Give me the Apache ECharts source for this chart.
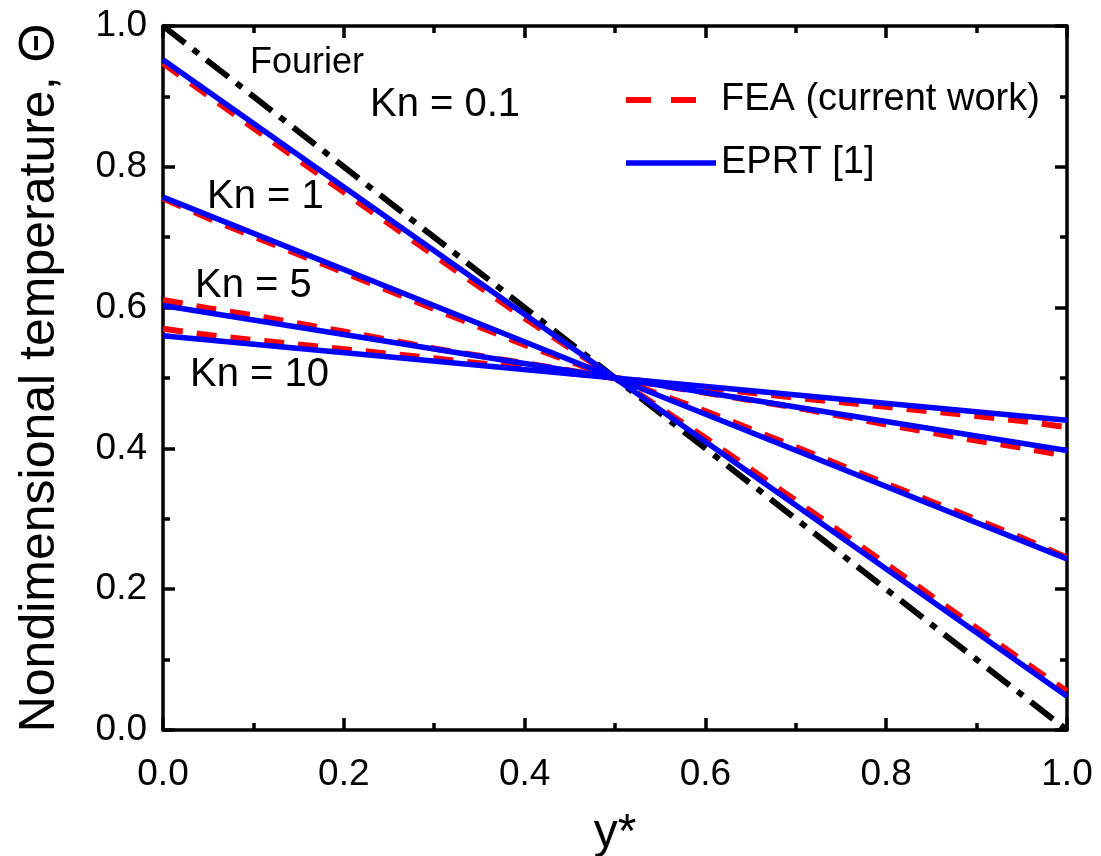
<!DOCTYPE html>
<html>
<head>
<meta charset="utf-8">
<script src="https://cdn.jsdelivr.net/npm/echarts@6/dist/echarts.min.js"></script>
<style>
  html, body { margin: 0; padding: 0; background: #fff; }
  #chart { width: 1101px; height: 856px; }
</style>
</head>
<body>
<div id="chart"></div>
<script>
// y* positions
const xFourier = [0, 1];
const xEprt = [0, 0.5, 1];
const xFea = [0, 0.05, 0.1, 0.2, 0.3, 0.4, 0.5, 0.6, 0.7, 0.8, 0.9, 0.95, 1];

// Fourier (diffusive) profile
const fourier = [1.0, 0.0];

// EPRT [1]
const eprtKn01 = [0.952, 0.5, 0.048];
const eprtKn1 = [0.757, 0.5, 0.243];
const eprtKn5 = [0.603, 0.5, 0.397];
const eprtKn10 = [0.560, 0.5, 0.440];

// FEA (current work)
const feaKn01 = [0.947, 0.901, 0.855, 0.764, 0.674, 0.585, 0.5, 0.415, 0.326, 0.236, 0.145, 0.099, 0.055];
const feaKn1 = [0.755, 0.727, 0.701, 0.650, 0.598, 0.547, 0.5, 0.453, 0.402, 0.350, 0.299, 0.273, 0.245];
const feaKn5 = [0.611, 0.599, 0.589, 0.566, 0.542, 0.521, 0.5, 0.479, 0.458, 0.434, 0.411, 0.401, 0.389];
const feaKn10 = [0.570, 0.561, 0.554, 0.541, 0.528, 0.514, 0.5, 0.486, 0.472, 0.459, 0.446, 0.439, 0.430];

const FONT = 'Liberation Sans, Arial, sans-serif';
const pairs = (xs, ys) => xs.map((x, i) => [x, ys[i]]);

const chart = echarts.init(document.getElementById('chart'));

const feaStyle = { color: '#ff0000', width: 6, type: [20, 14] };
const eprtStyle = { color: '#0000ff', width: 5.5, type: 'solid' };

const feaSeries = [feaKn01, feaKn1, feaKn5, feaKn10].map(d => ({
  name: 'FEA (current work)',
  type: 'line',
  data: pairs(xFea, d),
  symbol: 'none',
  lineStyle: feaStyle,
  itemStyle: { color: '#ff0000' },
  z: 3
}));

const eprtSeries = [eprtKn01, eprtKn1, eprtKn5, eprtKn10].map(d => ({
  name: 'EPRT [1]',
  type: 'line',
  data: pairs(xEprt, d),
  symbol: 'none',
  lineStyle: eprtStyle,
  itemStyle: { color: '#0000ff' },
  z: 4
}));

const axisCommon = {
  type: 'value',
  min: 0,
  max: 1,
  interval: 0.2,
  axisLine: { show: true, onZero: false, lineStyle: { color: '#000', width: 3.5 } },
  axisTick: { show: true, inside: true, length: 12, lineStyle: { color: '#000', width: 3.5 } },
  minorTick: { show: true, splitNumber: 2, length: 7, lineStyle: { color: '#000', width: 3.5 } },
  splitLine: { show: false }
};
const labelStyle = { color: '#000', fontSize: 37, fontFamily: FONT, formatter: v => v.toFixed(1) };

const option = {
  animation: false,
  backgroundColor: '#fff',
  grid: { left: 163, right: 34, top: 26, bottom: 126, outerBoundsMode: 'none', containLabel: false },
  xAxis: [
    Object.assign({}, axisCommon, {
      position: 'bottom',
      axisLabel: Object.assign({ margin: 26 }, labelStyle),
      name: 'y*',
      nameLocation: 'middle',
      nameGap: 80,
      nameTextStyle: { color: '#000', fontSize: 48, fontFamily: FONT }
    }),
    Object.assign({}, axisCommon, { position: 'top', axisLabel: { show: false } })
  ],
  yAxis: [
    Object.assign({}, axisCommon, {
      position: 'left',
      axisLabel: Object.assign({ margin: 16 }, labelStyle),
      name: 'Nondimensional temperature, \u0398',
      nameLocation: 'middle',
      nameGap: 98,
      nameTextStyle: { color: '#000', fontSize: 50, fontFamily: FONT }
    }),
    Object.assign({}, axisCommon, { position: 'right', axisLabel: { show: false } })
  ],
  legend: {
    orient: 'vertical',
    left: 623,
    top: 80,
    padding: 0,
    itemWidth: 90,
    itemHeight: 40,
    itemGap: 23,
    textStyle: { color: '#000', fontSize: 38, fontFamily: FONT, lineHeight: 40 },
    data: [
      { name: 'FEA (current work)', itemStyle: { opacity: 0 }, lineStyle: { color: '#ff0000', width: 6, type: [25, 20] } },
      { name: 'EPRT [1]', itemStyle: { opacity: 0 }, lineStyle: { color: '#0000ff', width: 5.5, type: 'solid' } }
    ]
  },
  graphic: [
    { type: 'text', left: 250, top: 45, style: { text: 'Fourier', fontSize: 36, fontFamily: FONT, fill: '#000' } },
    { type: 'text', left: 370, top: 85, style: { text: 'Kn = 0.1', fontSize: 40, fontFamily: FONT, fill: '#000' } },
    { type: 'text', left: 207, top: 177, style: { text: 'Kn = 1', fontSize: 40, fontFamily: FONT, fill: '#000' } },
    { type: 'text', left: 195, top: 266, style: { text: 'Kn = 5', fontSize: 40, fontFamily: FONT, fill: '#000' } },
    { type: 'text', left: 190, top: 355, style: { text: 'Kn = 10', fontSize: 40, fontFamily: FONT, fill: '#000' } }
  ],
  series: [
    {
      name: 'Fourier',
      type: 'line',
      data: pairs(xFourier, fourier),
      symbol: 'none',
      lineStyle: { color: '#000', width: 6, type: [28, 10, 7, 10] },
      z: 2
    }
  ].concat(feaSeries, eprtSeries)
};

chart.setOption(option);
</script>
</body>
</html>
